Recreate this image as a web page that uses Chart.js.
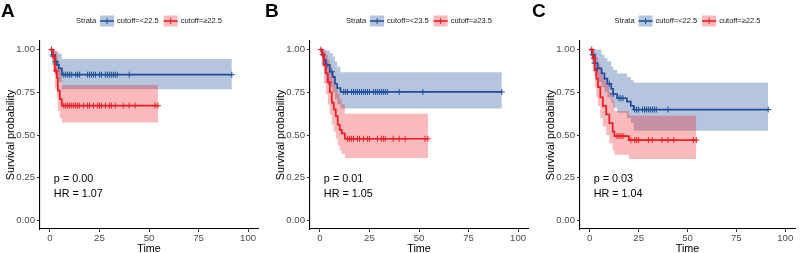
<!DOCTYPE html>
<html><head><meta charset="utf-8">
<script src="https://cdn.jsdelivr.net/npm/chart.js@4.4.1/dist/chart.umd.min.js"></script>
<style>
html,body{margin:0;padding:0;background:#fff;width:800px;height:253px;overflow:hidden}
canvas{position:absolute;left:0;top:0}
</style></head><body>
<canvas id="cA" width="800" height="253"></canvas>
<canvas id="cB" width="800" height="253"></canvas>
<canvas id="cC" width="800" height="253"></canvas>
<script>
// ---- shared ----
const xTicks = [0, 25, 50, 75, 100];
const yTicks = [0, 0.25, 0.5, 0.75, 1];
const legendTitle = 'Strata';
const xTitle = 'Time';
const yTitle = 'Survival probability';
const pvalPos = [2, 0.24];
const hrPos = [2, 0.157];

// ---- Panel A ----
const aLabels = ['cutoff=<22.5', 'cutoff=≥22.5'];
const aStats = ['p = 0.00', 'HR = 1.07'];
const aBlueT = [0, 1, 2.5, 3.5, 4.5, 6, 91.8];
const aBlueS = [1, 0.968, 0.93, 0.91, 0.89, 0.853, 0.853];
const aBlueHi = [1, 1, 0.995, 0.985, 0.975, 0.945, 0.945];
const aBlueLo = [1, 0.91, 0.86, 0.835, 0.81, 0.768, 0.768];
const aBlueCens = [1.5, 3, 7, 8, 9, 10, 11, 13, 14, 15, 19, 20, 21, 22, 23, 25, 26, 28, 29, 30, 31, 32, 33, 34, 40, 91.8];
const aRedT = [0, 1.5, 2.5, 3.5, 4, 5, 6, 54.5];
const aRedS = [1, 0.96, 0.875, 0.835, 0.76, 0.71, 0.672, 0.672];
const aRedHi = [1, 1, 0.99, 0.97, 0.93, 0.89, 0.793, 0.793];
const aRedLo = [1, 0.88, 0.77, 0.72, 0.64, 0.6, 0.573, 0.573];
const aRedCens = [0.8, 1.7, 3, 7, 8, 9, 10, 11, 12, 13, 14, 15, 17, 19, 20, 22, 24, 25, 26, 28, 30, 31, 33, 37, 40, 43, 53, 54.5];

// ---- Panel B ----
const bLabels = ['cutoff=<23.5', 'cutoff=≥23.5'];
const bStats = ['p = 0.01', 'HR = 1.05'];
const bBlueT = [0, 1, 2, 3, 5, 6.4, 7.6, 8.7, 10.4, 91.8];
const bBlueS = [1, 0.97, 0.94, 0.91, 0.87, 0.84, 0.80, 0.775, 0.752, 0.752];
const bBlueHi = [1, 1, 1, 0.995, 0.98, 0.96, 0.93, 0.9, 0.867, 0.867];
const bBlueLo = [1, 0.9, 0.86, 0.82, 0.78, 0.75, 0.71, 0.68, 0.655, 0.655];
const bBlueCens = [1.5, 3.5, 6, 12, 13, 14, 16, 17, 18, 19, 20, 21, 22, 23, 24, 25, 27, 28, 29, 30, 31, 32, 33, 34, 40, 52, 91.8];
const bRedT = [0, 1, 2, 3, 4, 5, 6, 7, 8, 9, 10, 11, 12.6, 54.5];
const bRedS = [1, 0.97, 0.91, 0.86, 0.81, 0.75, 0.69, 0.65, 0.61, 0.56, 0.53, 0.51, 0.478, 0.478];
const bRedHi = [1, 1, 0.99, 0.97, 0.94, 0.9, 0.86, 0.82, 0.78, 0.74, 0.71, 0.68, 0.625, 0.625];
const bRedLo = [1, 0.91, 0.8, 0.74, 0.68, 0.62, 0.56, 0.52, 0.48, 0.44, 0.41, 0.39, 0.365, 0.365];
const bRedCens = [0.5, 1.5, 4.5, 14, 15, 16, 17, 19, 20, 22, 24, 25, 29, 31, 32, 33, 37, 40, 43, 53, 54.5];

// ---- Panel C ----
const cLabels = ['cutoff=<22.5', 'cutoff=≥22.5'];
const cStats = ['p = 0.03', 'HR = 1.04'];
const cBlueT = [0, 1, 2.5, 4, 6, 7.5, 9, 11, 12, 14, 19, 21, 22.5, 91.3];
const cBlueS = [1, 0.97, 0.92, 0.89, 0.86, 0.83, 0.80, 0.77, 0.74, 0.715, 0.695, 0.67, 0.649, 0.649];
const cBlueHi = [1, 1, 1, 1, 0.97, 0.95, 0.93, 0.9, 0.88, 0.86, 0.84, 0.82, 0.805, 0.805];
const cBlueLo = [1, 0.92, 0.85, 0.81, 0.78, 0.75, 0.72, 0.69, 0.66, 0.63, 0.6, 0.57, 0.525, 0.525];
const cBlueCens = [1.5, 2.5, 4, 10, 12, 15, 16, 17, 23, 24, 25, 27, 28, 29, 30, 31, 32, 33, 34, 40, 91.3];
const cRedT = [0, 1.5, 2.5, 3.4, 4.2, 5.4, 6.7, 8.4, 10, 11.7, 12.6, 20, 54.5];
const cRedS = [1, 0.95, 0.88, 0.83, 0.78, 0.72, 0.67, 0.62, 0.57, 0.52, 0.494, 0.47, 0.47];
const cRedHi = [1, 1, 0.97, 0.95, 0.92, 0.88, 0.84, 0.8, 0.75, 0.7, 0.64, 0.612, 0.612];
const cRedLo = [1, 0.87, 0.78, 0.72, 0.67, 0.6, 0.55, 0.5, 0.45, 0.41, 0.385, 0.36, 0.36];
const cRedCens = [1, 2, 14, 15, 16, 17, 21, 23, 24, 25, 30, 32, 37, 40, 43, 53, 54.5];

// ---- styling ----
const BLUE = '#1F4E9A';
const RED = '#EE1C25';
const BLUE_BAND = 'rgba(31,78,154,0.33)';
const RED_BAND = 'rgba(238,28,37,0.31)';
const FONT = '"Liberation Sans", Arial, Helvetica, sans-serif';

function pts(T, V) { return T.map((t, i) => ({x: t, y: V[i]})); }
function stepAt(T, S, t) { let v = S[0]; for (let i = 0; i < T.length; i++) { if (T[i] <= t) v = S[i]; } return v; }
function censPts(T, S, C) { return C.map(t => ({x: t, y: stepAt(T, S, t)})); }

const decor = {
  id: 'decor',
  afterDraw(chart, args, o) {
    const ctx = chart.ctx, ca = chart.chartArea, xs = chart.scales.x, ys = chart.scales.y;
    ctx.save();
    // panel letter
    ctx.fillStyle = '#000';
    ctx.textAlign = 'left';
    ctx.textBaseline = 'alphabetic';
    ctx.font = 'bold 19px ' + FONT;
    ctx.fillText(o.letter, o.letterX, 17);
    // legend
    ctx.font = '7.5px ' + FONT;
    const keyW = 14, keyH = 11, gT = 4, gK = 3, gI = 5, yc = 21;
    const wT = ctx.measureText(legendTitle).width;
    const w1 = ctx.measureText(o.labels[0]).width;
    const w2 = ctx.measureText(o.labels[1]).width;
    const total = wT + gT + keyW + gK + w1 + gI + keyW + gK + w2;
    let x = (ca.left + ca.right) / 2 - total / 2;
    ctx.textBaseline = 'middle';
    ctx.fillStyle = '#1a1a1a';
    ctx.fillText(legendTitle, x, yc);
    x += wT + gT;
    const items = [[BLUE, BLUE_BAND, o.labels[0], w1], [RED, RED_BAND, o.labels[1], w2]];
    items.forEach((it, i) => {
      ctx.fillStyle = it[1];
      ctx.fillRect(x, yc - keyH / 2, keyW, keyH);
      ctx.strokeStyle = it[0];
      ctx.lineWidth = 1.6;
      ctx.beginPath(); ctx.moveTo(x, yc); ctx.lineTo(x + keyW, yc); ctx.stroke();
      ctx.lineWidth = 1;
      ctx.beginPath(); ctx.moveTo(x + keyW / 2, yc - 3); ctx.lineTo(x + keyW / 2, yc + 3); ctx.stroke();
      x += keyW + gK;
      ctx.fillStyle = '#1a1a1a';
      ctx.fillText(it[2], x, yc);
      x += it[3] + gI;
    });
    // stats annotation
    ctx.fillStyle = '#000';
    ctx.font = '10.8px ' + FONT;
    ctx.textBaseline = 'middle';
    ctx.fillText(o.stats[0], xs.getPixelForValue(pvalPos[0]), ys.getPixelForValue(pvalPos[1]));
    ctx.fillText(o.stats[1], xs.getPixelForValue(hrPos[0]), ys.getPixelForValue(hrPos[1]));
    ctx.restore();
  }
};

function makePanel(id, P) {
  const line = (data, color, order) => ({data, borderColor: color, backgroundColor: color, borderWidth: 1.7,
    pointRadius: 0, stepped: true, fill: false, order});
  const cens = (data, color, order) => ({data, borderColor: color, backgroundColor: color, showLine: false,
    pointStyle: 'cross', pointRadius: 3, pointBorderWidth: 1, order});
  const band = (data, color, order, fill) => ({data, borderColor: 'rgba(0,0,0,0)', borderWidth: 0, backgroundColor: color,
    pointRadius: 0, stepped: true, fill, order});
  const datasets = [
    line(pts(P.redT, P.redS), RED, 1),
    cens(censPts(P.redT, P.redS, P.redC), RED, 1),
    line(pts(P.blueT, P.blueS), BLUE, 3),
    cens(censPts(P.blueT, P.blueS, P.blueC), BLUE, 3),
    band(pts(P.redT, P.redHi), RED_BAND, 5, '+1'),
    band(pts(P.redT, P.redLo), RED_BAND, 5, false),
    band(pts(P.blueT, P.blueHi), BLUE_BAND, 7, '+1'),
    band(pts(P.blueT, P.blueLo), BLUE_BAND, 7, false)
  ];
  const axisCommon = {
    border: {display: true, color: '#000', width: 1.1},
    grid: {display: true, drawOnChartArea: false, drawTicks: true, tickLength: 3, tickColor: '#333', tickWidth: 1}
  };
  new Chart(document.getElementById(id), {
    type: 'line',
    data: {datasets},
    options: {
      responsive: false, animation: false, events: [],
      layout: {padding: {left: P.padL, right: P.padR, top: 41, bottom: 0}},
      plugins: {legend: {display: false}, tooltip: {enabled: false}, decor: P.decor},
      scales: {
        x: Object.assign({type: 'linear', min: -5, max: 105,
          afterBuildTicks: a => { a.ticks = xTicks.map(v => ({value: v})); },
          afterFit: s => { s.height = 24; },
          ticks: {font: {family: FONT, size: 9.6}, color: '#4D4D4D', padding: 1, callback: v => String(v)},
          title: {display: true, text: xTitle, font: {family: FONT, size: 10.8, lineHeight: 0.8}, color: '#000', padding: 0}
        }, axisCommon),
        y: Object.assign({type: 'linear', min: -0.05, max: 1.05,
          afterBuildTicks: a => { a.ticks = yTicks.map(v => ({value: v})); },
          afterFit: s => { s.width = 40; },
          ticks: {font: {family: FONT, size: 9.6}, color: '#4D4D4D', padding: 2, callback: v => Number(v).toFixed(2)},
          title: {display: true, text: yTitle, font: {family: FONT, size: 10.8, lineHeight: 1.2}, color: '#000', padding: {top: 4.4, bottom: 0}}
        }, axisCommon)
      }
    },
    plugins: [decor]
  });
}

makePanel('cA', {blueT: aBlueT, blueS: aBlueS, blueHi: aBlueHi, blueLo: aBlueLo, blueC: aBlueCens,
  redT: aRedT, redS: aRedS, redHi: aRedHi, redLo: aRedLo, redC: aRedCens, padL: 0, padR: 542,
  decor: {letter: 'A', letterX: 1, labels: aLabels, stats: aStats}});
makePanel('cB', {blueT: bBlueT, blueS: bBlueS, blueHi: bBlueHi, blueLo: bBlueLo, blueC: bBlueCens,
  redT: bRedT, redS: bRedS, redHi: bRedHi, redLo: bRedLo, redC: bRedCens, padL: 270, padR: 272,
  decor: {letter: 'B', letterX: 265, labels: bLabels, stats: bStats}});
makePanel('cC', {blueT: cBlueT, blueS: cBlueS, blueHi: cBlueHi, blueLo: cBlueLo, blueC: cBlueCens,
  redT: cRedT, redS: cRedS, redHi: cRedHi, redLo: cRedLo, redC: cRedCens, padL: 540, padR: 1,
  decor: {letter: 'C', letterX: 532, labels: cLabels, stats: cStats}});
</script>
</body></html>
